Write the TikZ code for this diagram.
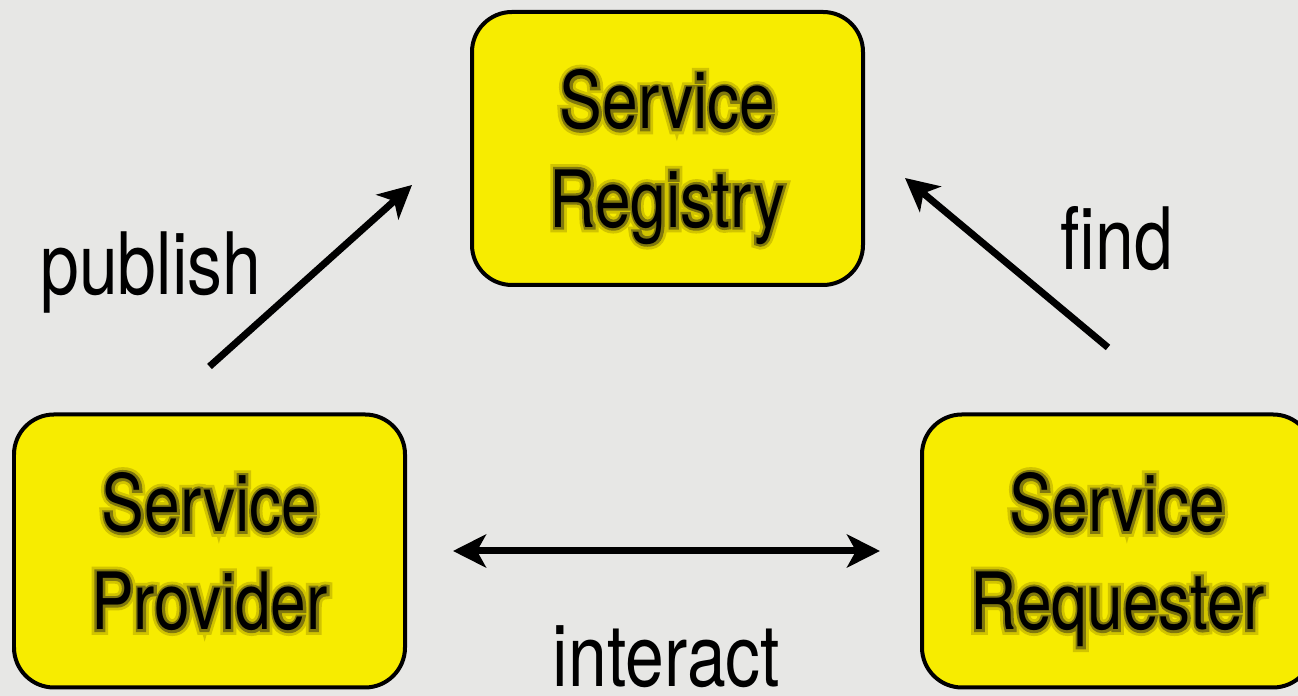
\documentclass[tikz,border=0pt]{standalone}
\usepackage{fontspec}
\setmainfont{TeX Gyre Heros}[FakeStretch=0.81]
\usetikzlibrary{arrows.meta, positioning}
\definecolor{sfondo}{RGB}{231,231,229}
\definecolor{giallo}{RGB}{247,236,0}
\newcommand{\alone}[1]{%
\rlap{\special{pdf:code q 1 Tr 3.0 w 0.82 0.77 0 RG}#1\special{pdf:code Q}}%
\rlap{\special{pdf:code q 1 Tr 1.4 w 0.5 0.47 0.05 RG}#1\special{pdf:code Q}}#1%
}

\begin{document}
\begin{tikzpicture}[
    scatola/.style = {draw, line width = 0.04cm, fill = giallo, rounded corners = 0.4cm,
        minimum width = 3.91cm, minimum height = 2.73cm, inner sep = 0pt,
        align = center, text depth = 0pt, font = \fontsize{22.5}{27.9}\selectfont},
    freccia/.style = {line width = 0.07cm, >={Stealth[length = 0.33cm, width = 0.33cm, inset = 0.09cm]}},
    etichetta/.style = {inner sep = 0pt, font = \fontsize{24.5}{29}\selectfont}
]
    % Sfondo
    \fill[sfondo] (0,0) rectangle (12.98,6.96);
    \useasboundingbox (0,0) rectangle (12.98,6.96);
    \clip (0,0) rectangle (12.98,6.96);
    % Scatole
    \node[scatola] (registry) at (6.675,5.475) {\alone{Service}\\\alone{Registry}};
    \node[scatola] (provider) at (2.095,1.45) {\alone{Service}\\\alone{Provider}};
    \node[scatola] (requester) at (11.175,1.45) {\alone{Service}\\\alone{Requester}};
    % Frecce
    \draw[freccia, ->] ([yshift = 0.46cm]provider.north) -- ([xshift = -0.58cm, yshift = -0.365cm]registry.west)
        node[etichetta, pos = 0.5, left = 0.46cm, yshift = 0.035cm]{publish};
    \draw[freccia, ->] ([xshift = -0.095cm, yshift = 0.65cm]requester.north) -- ([xshift = 0.4cm, yshift = -0.295cm]registry.east)
        node[etichetta, pos = 0.5, right = 0.505cm, yshift = 0.24cm]{find};
    \draw[freccia, <->] ([xshift = 0.46cm]provider.east) -- ([xshift = -0.4cm]requester.west)
        node[etichetta, pos = 0.5, below = 0.71cm]{interact};
\end{tikzpicture}
\end{document}
